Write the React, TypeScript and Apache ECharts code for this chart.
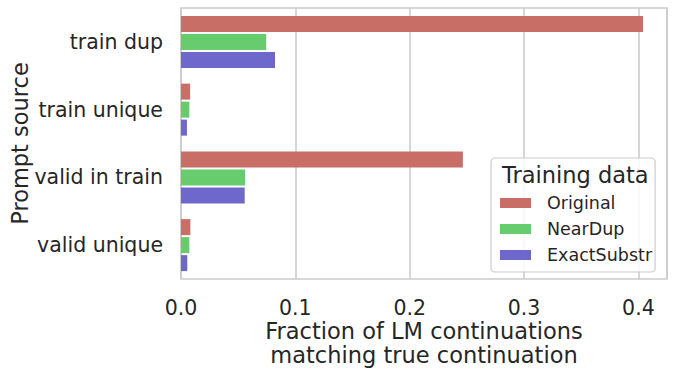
import React, { useEffect, useRef } from "react";
import * as echarts from "echarts";

const categories = ["train dup", "train unique", "valid in train", "valid unique"];
const seriesNames = ["Original", "NearDup", "ExactSubstr"];
const original = [0.404, 0.008, 0.2465, 0.0082];
const nearDup = [0.0745, 0.0073, 0.056, 0.0073];
const exactSubstr = [0.0822, 0.0052, 0.0557, 0.0055];
const colors = ["#c96d67", "#66cc6e", "#6e67cc"];
const xMin = 0;
const xMax = 0.425;
const xStep = 0.1;

const FONT = "DejaVu Sans";
const TXT = "#262626";
const GRIDC = "#cccccc";

export default function App() {
  const ref = useRef<HTMLDivElement>(null);
  useEffect(() => {
    if (!ref.current) return;
    const chart = echarts.init(ref.current, undefined, { renderer: "svg" });
    const values = [original, nearDup, exactSubstr];
    chart.setOption({
      animation: false,
      backgroundColor: "#ffffff",
      textStyle: { fontFamily: FONT, color: TXT },
      grid: {
        left: 181,
        right: 9,
        top: 8,
        bottom: 97,
        containLabel: false,
        outerBoundsMode: "none",
        show: true,
        borderColor: GRIDC,
        borderWidth: 1.6,
        backgroundColor: "transparent",
      },
      xAxis: {
        type: "value",
        min: xMin,
        max: xMax,
        interval: xStep,
        name: "Fraction of LM continuations\nmatching true continuation",
        nameLocation: "middle",
        nameGap: 40,
        nameMoveOverlap: false,
        nameTextStyle: { fontFamily: FONT, fontSize: 22.5, color: TXT, lineHeight: 24 },
        axisLine: { show: false },
        axisTick: { show: false },
        axisLabel: {
          fontFamily: FONT,
          fontSize: 20.5,
          lineHeight: 20,
          color: TXT,
          margin: 19,
          showMaxLabel: false,
          formatter: (v: number) => v.toFixed(1),
        },
        splitLine: { show: true, lineStyle: { color: GRIDC, width: 1.6 } },
      },
      yAxis: {
        type: "category",
        data: categories,
        inverse: true,
        name: "Prompt source",
        nameLocation: "middle",
        nameGap: 150,
        nameMoveOverlap: false,
        nameRotate: 90,
        nameTextStyle: { fontFamily: FONT, fontSize: 22.5, color: TXT },
        axisLine: { show: false },
        axisTick: { show: false },
        axisLabel: { fontFamily: FONT, fontSize: 20.5, color: TXT, margin: 18 },
        splitLine: { show: false },
      },
      legend: {
        orient: "vertical",
        left: 491,
        top: 158,
        data: seriesNames,
        icon: "rect",
        itemWidth: 31,
        itemHeight: 10,
        itemGap: 8,
        padding: [36, 3, 8, 9],
        backgroundColor: "rgba(255,255,255,0.85)",
        borderColor: GRIDC,
        borderWidth: 1.2,
        borderRadius: 4,
        textStyle: {
          fontFamily: FONT,
          fontSize: 17.5,
          color: TXT,
          lineHeight: 18,
          padding: [0, 0, 0, 11],
        },
      },
      graphic: [
        {
          type: "text",
          left: 502,
          top: 163,
          z: 100,
          style: {
            text: "Training data",
            fontFamily: FONT,
            fontSize: 22.5,
            fill: TXT,
          },
        },
      ],
      series: seriesNames.map((name, i) => ({
        name,
        type: "bar",
        data: values[i],
        barWidth: 16,
        barGap: "12.5%",
        itemStyle: { color: colors[i] },
      })),
    });
    return () => chart.dispose();
  }, []);
  return (
    <div
      ref={ref}
      style={{ position: "fixed", left: 0, top: 0, width: 676, height: 376 }}
    />
  );
}
